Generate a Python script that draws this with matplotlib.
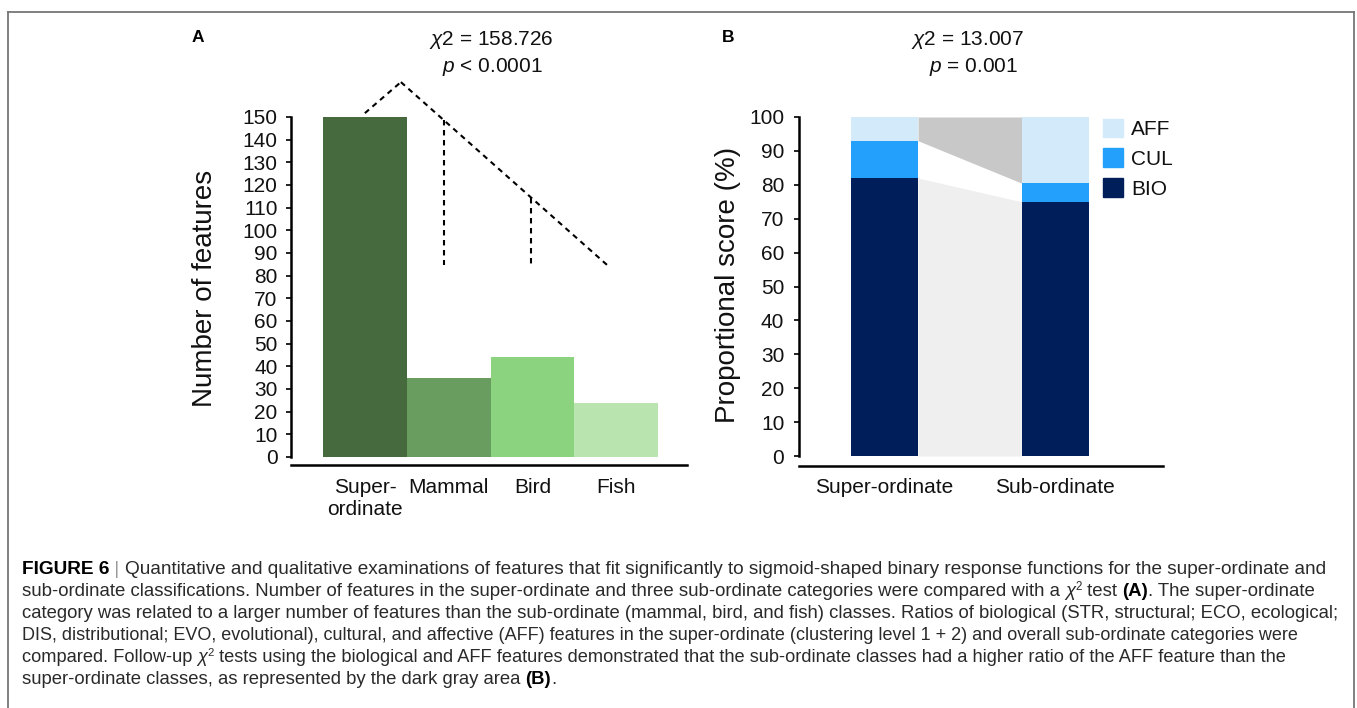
import matplotlib
matplotlib.use('Agg')
import numpy as np
import matplotlib.pyplot as plt
from matplotlib.patches import Patch
from matplotlib.lines import Line2D

# ---------------- data ----------------
cats_a = ["Super-\nordinate", "Mammal", "Bird", "Fish"]
counts_a = [150, 35, 44, 24]
colors_a = ["#466a3e", "#699d5f", "#8bd37f", "#b9e4b0"]
yticks_a = list(range(0, 151, 10))

cats_b = ["Super-ordinate", "Sub-ordinate"]
bio_b = [82, 75]
cul_b = [11, 5.5]
aff_b = [7, 19.5]
series_names_b = ["BIO", "CUL", "AFF"]
colors_b = {"BIO": "#001e5a", "CUL": "#22a0fc", "AFF": "#d3eafa"}
yticks_b = list(range(0, 101, 10))

stat_a = [r"$\mathit{\chi}$2 = 158.726", r"$\mathit{p}$ < 0.0001"]
stat_b = [r"$\mathit{\chi}$2 = 13.007", r"$\mathit{p}$ = 0.001"]

# ---------------- setup ----------------
W, H = 1357, 708
plt.rcParams['font.family'] = ['Liberation Sans', 'DejaVu Sans']
plt.rcParams['mathtext.fontset'] = 'custom'
plt.rcParams['mathtext.rm'] = 'Liberation Sans'
plt.rcParams['mathtext.it'] = 'Liberation Sans:italic'
plt.rcParams['mathtext.bf'] = 'Liberation Sans:bold'

fig = plt.figure(figsize=(W / 100, H / 100), dpi=100)


def fx(px):
    return px / W


def fy(py):
    return 1 - py / H


TXT = "#111111"
TICK_FS = 15
LABEL_FS = 20

# ---------------- panel A ----------------
axA = fig.add_axes([fx(291), fy(457), (687 - 291) / W, (457 - 117) / H])
xa = np.arange(len(cats_a))
axA.bar(xa, counts_a, width=1.0, color=colors_a, linewidth=0)
axA.set_xlim(-0.882, 3.846)
axA.set_ylim(0, 150)
axA.set_yticks(yticks_a)
axA.set_xticks(xa)
axA.set_xticklabels(cats_a, multialignment='center')
for s in ['top', 'right']:
    axA.spines[s].set_visible(False)
axA.spines['left'].set_bounds(0, 150)
axA.spines['left'].set_linewidth(1.8)
axA.spines['bottom'].set_position(('outward', 5.8))
axA.spines['bottom'].set_linewidth(1.8)
axA.tick_params(axis='y', direction='out', length=3.6, width=1.3,
                labelsize=TICK_FS, pad=6, colors=TXT)
axA.tick_params(axis='x', length=0, labelsize=TICK_FS, pad=9.5, colors=TXT)

# dashed comparison tree (annotation geometry)
dash = dict(color='black', lw=1.5, linestyle=(0, (2.6, 2.2)), clip_on=False)
apex = (0.43, 165.4)
axA.add_line(Line2D([0.0, apex[0]], [151.7, apex[1]], **dash))
axA.add_line(Line2D([apex[0], 2.92], [apex[1], 83.8], **dash))
axA.add_line(Line2D([0.943, 0.943], [148.6, 84.7], **dash))
axA.add_line(Line2D([1.98, 1.98], [114.4, 84.7], **dash))

fig.text(fx(205), fy(288), "Number of features", rotation=90,
         ha='center', va='center', fontsize=LABEL_FS, color=TXT)
fig.text(fx(198), fy(38), "A", ha='center', va='center',
         fontsize=12.5, fontweight='bold')
fig.text(fx(491), fy(40), stat_a[0], ha='center', va='center',
         fontsize=TICK_FS, color=TXT)
fig.text(fx(492), fy(67), stat_a[1], ha='center', va='center',
         fontsize=TICK_FS, color=TXT)

# ---------------- panel B ----------------
axB = fig.add_axes([fx(799), fy(456), (1163 - 799) / W, (456 - 117) / H])
xb = np.arange(len(cats_b))
bw = 0.393
bio = np.array(bio_b, dtype=float)
cul = np.array(cul_b, dtype=float)
aff = np.array(aff_b, dtype=float)

# connecting areas between the bars
xc = [xb[0] + bw / 2, xb[1] - bw / 2]
axB.fill_between(xc, [0, 0], bio, color="#efefef", linewidth=0)
axB.fill_between(xc, bio + cul, bio + cul + aff, color="#c8c8c8", linewidth=0)

axB.bar(xb, bio, width=bw, color=colors_b["BIO"], linewidth=0, label="BIO")
axB.bar(xb, cul, width=bw, bottom=bio, color=colors_b["CUL"], linewidth=0, label="CUL")
axB.bar(xb, aff, width=bw, bottom=bio + cul, color=colors_b["AFF"], linewidth=0, label="AFF")

axB.set_xlim(-0.5015, 1.633)
axB.set_ylim(0, 100)
axB.set_yticks(yticks_b)
axB.set_xticks(xb)
axB.set_xticklabels(cats_b)
for s in ['top', 'right']:
    axB.spines[s].set_visible(False)
axB.spines['left'].set_bounds(0, 100)
axB.spines['left'].set_linewidth(1.8)
axB.spines['bottom'].set_position(('outward', 7.2))
axB.spines['bottom'].set_linewidth(1.8)
axB.tick_params(axis='y', direction='out', length=3.6, width=1.3,
                labelsize=TICK_FS, pad=7, colors=TXT)
axB.tick_params(axis='x', length=0, labelsize=TICK_FS, pad=8.5, colors=TXT)

handles = [Patch(color=colors_b[n]) for n in reversed(series_names_b)]
fig.legend(handles, list(reversed(series_names_b)), loc='upper left',
           bbox_to_anchor=(fx(1103), fy(118.5)), frameon=False,
           fontsize=TICK_FS, handlelength=0.95, handleheight=0.98,
           handletextpad=0.4, labelspacing=0.46, borderpad=0,
           borderaxespad=0, labelcolor=TXT)

fig.text(fx(728), fy(285), "Proportional score (%)", rotation=90,
         ha='center', va='center', fontsize=LABEL_FS, color=TXT)
fig.text(fx(728), fy(37), "B", ha='center', va='center',
         fontsize=12.5, fontweight='bold')
fig.text(fx(968), fy(40), stat_b[0], ha='center', va='center',
         fontsize=TICK_FS, color=TXT)
fig.text(fx(974), fy(67), stat_b[1], ha='center', va='center',
         fontsize=TICK_FS, color=TXT)

# ---------------- border ----------------
bc = "#767676"
for xs, ys in [([8, 8], [12, 708]), ([8, 1354], [12, 12]), ([1354, 1354], [12, 708])]:
    fig.add_artist(Line2D([fx(v) for v in xs], [fy(v) for v in ys],
                          color=bc, lw=1.3, transform=fig.transFigure))

# ---------------- caption ----------------
renderer = fig.canvas.get_renderer()
CAP_FAMILY = ['Liberation Sans', 'DejaVu Sans']
CAP_COLOR = "#2a2a2a"

N = dict()
B = dict(weight='bold', color='black')
I = dict(style='italic')
SUP = dict(scale=0.62, dy=6)
G = dict(color='#9a9a9a')

caption_lines = [
    [("FIGURE 6", B), (" | ", G),
     ("Quantitative and qualitative examinations of features that fit significantly to sigmoid-shaped binary response functions for the super-ordinate and", N)],
    [("sub-ordinate classifications. Number of features in the super-ordinate and three sub-ordinate categories were compared with a ", N),
     ("\u03c7", I), ("2", SUP), (" test ", N), ("(A)", B), (". The super-ordinate", N)],
    [("category was related to a larger number of features than the sub-ordinate (mammal, bird, and fish) classes. Ratios of biological (STR, structural; ECO, ecological;", N)],
    [("DIS, distributional; EVO, evolutional), cultural, and affective (AFF) features in the super-ordinate (clustering level 1 + 2) and overall sub-ordinate categories were", N)],
    [("compared. Follow-up ", N), ("\u03c7", I), ("2", SUP), (" tests using the biological and AFF features demonstrated that the sub-ordinate classes had a higher ratio of the AFF feature than the", N)],
    [("super-ordinate classes, as represented by the dark gray area ", N), ("(B)", B), (".", N)],
]
# right end (px) of each full caption line; the last line is short and not fitted
caption_line_ends = [1338, 1323, 1345, 1300, 1290, None]


def advance(text, size, kw):
    props = dict(fontsize=size, fontweight=kw.get('weight', 'normal'),
                 fontstyle=kw.get('style', 'normal'), family=CAP_FAMILY)
    t1 = fig.text(0, 0, text + "x", **props)
    t2 = fig.text(0, 0, "x", **props)
    w = t1.get_window_extent(renderer).width - t2.get_window_extent(renderer).width
    t1.remove()
    t2.remove()
    return w


def line_width(segs, size):
    return sum(advance(t, size * kw.get('scale', 1), kw) for t, kw in segs)


def draw_line(segs, x0, y_base, size):
    x = x0
    for text, kw in segs:
        fs = size * kw.get('scale', 1)
        dy = kw.get('dy', 0)
        fig.text(fx(x), fy(y_base - dy), text, fontsize=fs,
                 fontweight=kw.get('weight', 'normal'),
                 fontstyle=kw.get('style', 'normal'),
                 color=kw.get('color', CAP_COLOR), family=CAP_FAMILY,
                 ha='left', va='baseline')
        x += advance(text, fs, kw)


base = 12.0
X0 = 22
sizes = []
for i, segs in enumerate(caption_lines):
    end = caption_line_ends[i]
    if end is None:
        fs = float(np.mean(sizes))
    else:
        fs = base * (end - X0) / line_width(segs, base)
        sizes.append(fs)
    draw_line(segs, X0, 574 + 22 * i, fs)

fig.savefig("out.png", dpi=100)
